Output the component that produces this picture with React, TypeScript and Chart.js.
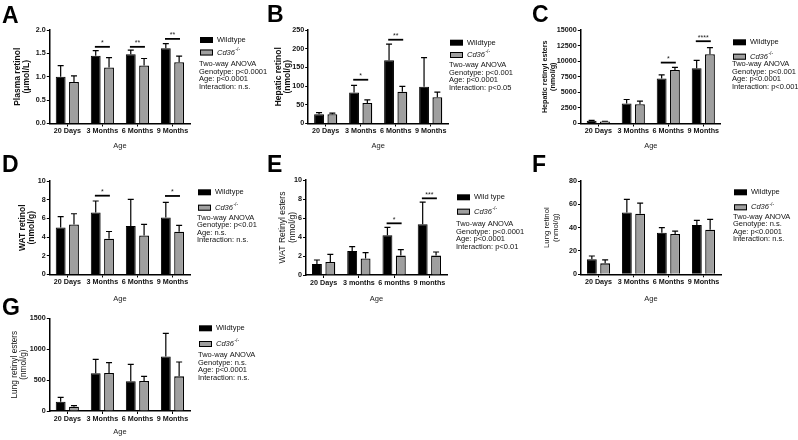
import React, { useEffect, useRef } from "react";
import { Chart, registerables } from "chart.js";
Chart.register(...registerables);

const FONT = "'Liberation Sans', Arial, Helvetica, sans-serif";

// ---------- data ----------
const CATS = ["20 Days", "3 Months", "6 Months", "9 Months"];
const CATS_E = ["20 Days", "3 months", "6 months", "9 months"];

const A_WT = [1.0, 1.45, 1.48, 1.61];
const A_WT_ERR = [0.24, 0.11, 0.09, 0.1];
const A_KO = [0.89, 1.2, 1.24, 1.31];
const A_KO_ERR = [0.13, 0.21, 0.15, 0.13];
const A_SIG_Y = [null, 1.64, 1.64, 1.81];
const A_SIG_TXT = ["", "*", "**", "**"];
const A_STATS = ["Two-way ANOVA", "Genotype: p<0.0001", "Age: p<0.0001", "Interaction: n.s."];

const B_WT = [25, 83, 169, 98];
const B_WT_ERR = [4, 19, 43, 78];
const B_KO = [25, 55, 85, 70];
const B_KO_ERR = [3, 8, 14, 14];
const B_SIG_Y = [null, 117, 224, null];
const B_SIG_TXT = ["", "*", "**", ""];
const B_STATS = ["Two-way ANOVA", "Genotype: p<0.001", "Age: p<0.0001", "Interaction: p<0.05"];

const C_WT = [430, 3200, 7200, 8860];
const C_WT_ERR = [60, 650, 600, 1280];
const C_KO = [320, 3100, 8600, 11100];
const C_KO_ERR = [40, 480, 420, 1070];
const C_SIG_Y = [null, null, 9770, 13200];
const C_SIG_TXT = ["", "", "*", "****"];
const C_STATS = ["Two-way ANOVA", "Genotype: p<0.001", "Age: p<0.0001", "Interaction: p<0.001"];

const D_WT = [5.04, 6.64, 5.18, 6.1];
const D_WT_ERR = [1.14, 1.22, 2.86, 1.61];
const D_KO = [5.36, 3.82, 4.18, 4.57];
const D_KO_ERR = [1.14, 0.78, 1.18, 0.68];
const D_SIG_Y = [null, 8.43, null, 8.4];
const D_SIG_TXT = ["", "*", "", "*"];
const D_STATS = ["Two-way ANOVA", "Genotype: p<0.01", "Age: n.s.", "Interaction: n.s."];

const E_WT = [1.16, 2.53, 4.18, 5.33];
const E_WT_ERR = [0.42, 0.45, 0.84, 2.35];
const E_KO = [1.37, 1.75, 2.04, 2.04];
const E_KO_ERR = [0.81, 0.6, 0.63, 0.38];
const E_SIG_Y = [null, null, 5.44, 8.07];
const E_SIG_TXT = ["", "", "*", "***"];
const E_STATS = ["Two-way ANOVA", "Genotype: p<0.0001", "Age: p<0.0001", "Interaction: p<0.01"];

const F_WT = [12.9, 52.9, 35.7, 42.3];
const F_WT_ERR = [2.8, 11.4, 4.3, 4.0];
const F_KO = [9.4, 52, 34.6, 38.3];
const F_KO_ERR = [2.9, 9.1, 2.5, 8.8];
const F_SIG_Y = [null, null, null, null];
const F_SIG_TXT = ["", "", "", ""];
const F_STATS = ["Two-way ANOVA", "Genotype: n.s.", "Age: p<0.0001", "Interaction: n.s."];

const G_WT = [151, 610, 480, 880];
const G_WT_ERR = [70, 226, 275, 377];
const G_KO = [70, 615, 486, 561];
const G_KO_ERR = [16, 168, 75, 232];
const G_SIG_Y = [null, null, null, null];
const G_SIG_TXT = ["", "", "", ""];
const G_STATS = ["Two-way ANOVA", "Genotype: n.s.", "Age: p<0.0001", "Interaction: n.s."];

// ---------- panels (layout) ----------
const PANELS: any[] = [
  {
    letter: "A", cats: CATS, wt: A_WT, wtErr: A_WT_ERR, ko: A_KO, koErr: A_KO_ERR, sigY: A_SIG_Y, sigTxt: A_SIG_TXT, stats: A_STATS,
    wtName: "Wildtype", yTitle: ["Plasma retinol", "(\u03bcmol/L)"], yBold: true, ySize: 8.5, yFirstX: 17.5,
    max: 2, step: 0.5, dec: 1,
    box: { x0: 0, y0: 0, w: 270, h: 150 }, plot: { L: 49.8, T: 30, R: 190, B: 123.5 },
    letterPos: [2, 23], leg: { x: 200, wt: 40, ko: 52.5, st: 64 },
  },
  {
    letter: "B", cats: CATS, wt: B_WT, wtErr: B_WT_ERR, ko: B_KO, koErr: B_KO_ERR, sigY: B_SIG_Y, sigTxt: B_SIG_TXT, stats: B_STATS,
    wtName: "Wildtype", yTitle: ["Hepatic retinol", "(nmol/g)"], yBold: true, ySize: 8.5, yFirstX: 278.5,
    max: 250, step: 50, dec: 0,
    box: { x0: 265, y0: 0, w: 270, h: 150 }, plot: { L: 308.2, T: 30, R: 448.2, B: 123.5 },
    letterPos: [267, 22], leg: { x: 450, wt: 42.7, ko: 55, st: 65 },
  },
  {
    letter: "C", cats: CATS, wt: C_WT, wtErr: C_WT_ERR, ko: C_KO, koErr: C_KO_ERR, sigY: C_SIG_Y, sigTxt: C_SIG_TXT, stats: C_STATS,
    wtName: "Wildtype", yTitle: ["Hepatic retinyl esters", "(nmol/g)"], yBold: true, ySize: 7.2, yFirstX: 545,
    max: 15000, step: 2500, dec: 0,
    box: { x0: 530, y0: 0, w: 268, h: 150 }, plot: { L: 580.8, T: 30, R: 720.8, B: 123.5 },
    letterPos: [532, 22], leg: { x: 733, wt: 42.3, ko: 56.7, st: 64.3 },
  },
  {
    letter: "D", cats: CATS, wt: D_WT, wtErr: D_WT_ERR, ko: D_KO, koErr: D_KO_ERR, sigY: D_SIG_Y, sigTxt: D_SIG_TXT, stats: D_STATS,
    wtName: "Wildtype", yTitle: ["WAT retinol", "(nmol/g)"], yBold: true, ySize: 8.5, yFirstX: 22.5,
    max: 10, step: 2, dec: 0,
    box: { x0: 0, y0: 148, w: 270, h: 155 }, plot: { L: 49.8, T: 181, R: 190, B: 274.5 },
    letterPos: [2, 172], leg: { x: 198, wt: 192.3, ko: 207.7, st: 217.7 },
  },
  {
    letter: "E", cats: CATS_E, wt: E_WT, wtErr: E_WT_ERR, ko: E_KO, koErr: E_KO_ERR, sigY: E_SIG_Y, sigTxt: E_SIG_TXT, stats: E_STATS,
    wtName: "Wild type", yTitle: ["WAT Retinyl esters", "(nmol/g)"], yBold: false, ySize: 8.5, yFirstX: 283,
    max: 10, step: 2, dec: 0,
    box: { x0: 265, y0: 148, w: 270, h: 155 }, plot: { L: 306, T: 180, R: 447, B: 275 },
    letterPos: [267, 172], leg: { x: 457, wt: 197.3, ko: 211.7, st: 224.3 },
  },
  {
    letter: "F", cats: CATS, wt: F_WT, wtErr: F_WT_ERR, ko: F_KO, koErr: F_KO_ERR, sigY: F_SIG_Y, sigTxt: F_SIG_TXT, stats: F_STATS,
    wtName: "Wildtype", yTitle: ["Lung retinol", "(nmol/g)"], yBold: false, ySize: 7.8, yFirstX: 547,
    max: 80, step: 20, dec: 0,
    box: { x0: 530, y0: 148, w: 268, h: 155 }, plot: { L: 581, T: 181, R: 721, B: 274.3 },
    letterPos: [532, 172], leg: { x: 734, wt: 192.3, ko: 207.3, st: 216.7 },
  },
  {
    letter: "G", cats: CATS, wt: G_WT, wtErr: G_WT_ERR, ko: G_KO, koErr: G_KO_ERR, sigY: G_SIG_Y, sigTxt: G_SIG_TXT, stats: G_STATS,
    wtName: "Wildtype", yTitle: ["Lung retinyl esters", "(nmol/g)"], yBold: false, ySize: 8.3, yFirstX: 14.5,
    max: 1500, step: 500, dec: 0,
    box: { x0: 0, y0: 293, w: 270, h: 143 }, plot: { L: 49.8, T: 318.3, R: 190, B: 411 },
    letterPos: [2, 315], leg: { x: 199, wt: 328.3, ko: 344, st: 355 },
  },
];

const GRAY = "#9f9f9f";

function decor(p: any) {
  return {
    id: "decor" + p.letter,
    afterDatasetsDraw(chart: any) {
      const ctx = chart.ctx;
      const xs = chart.scales.x;
      const ys = chart.scales.y;
      const ox = p.box.x0;
      const oy = p.box.y0;
      ctx.save();
      // error bars (upper only)
      [0, 1].forEach((di) => {
        const meta = chart.getDatasetMeta(di);
        const vals = di === 0 ? p.wt : p.ko;
        const errs = di === 0 ? p.wtErr : p.koErr;
        meta.data.forEach((bar: any, i: number) => {
          const cx = bar.x;
          const y0 = ys.getPixelForValue(vals[i]);
          const y1 = ys.getPixelForValue(vals[i] + errs[i]);
          ctx.strokeStyle = "#000";
          ctx.lineWidth = 1.2;
          ctx.beginPath();
          ctx.moveTo(cx, y0);
          ctx.lineTo(cx, y1);
          ctx.moveTo(cx - 3, y1);
          ctx.lineTo(cx + 3, y1);
          ctx.stroke();
        });
      });
      // significance
      p.sigY.forEach((v: any, i: number) => {
        if (v == null) return;
        const cx = xs.getPixelForValue(i);
        const yy = ys.getPixelForValue(v);
        ctx.strokeStyle = "#000";
        ctx.lineWidth = 1.8;
        ctx.beginPath();
        ctx.moveTo(cx - 7.5, yy);
        ctx.lineTo(cx + 7.5, yy);
        ctx.stroke();
        ctx.fillStyle = "#222";
        ctx.font = `7px ${FONT}`;
        ctx.textAlign = "center";
        ctx.textBaseline = "alphabetic";
        ctx.fillText(p.sigTxt[i], cx, yy - 1.5);
      });
      // panel letter
      ctx.fillStyle = "#000";
      ctx.font = `bold 23px ${FONT}`;
      ctx.textAlign = "left";
      ctx.textBaseline = "alphabetic";
      ctx.fillText(p.letter, p.letterPos[0] - ox, p.letterPos[1] - oy);
      // legend
      const lx = p.leg.x - ox;
      ctx.fillStyle = "#000";
      ctx.fillRect(lx, p.leg.wt - oy - 3, 13, 6);
      ctx.fillStyle = GRAY;
      ctx.fillRect(lx, p.leg.ko - oy - 3, 13, 6);
      ctx.strokeStyle = "#000";
      ctx.lineWidth = 1;
      ctx.strokeRect(lx + 0.5, p.leg.ko - oy - 2.5, 12, 5);
      ctx.fillStyle = "#111";
      ctx.textBaseline = "middle";
      ctx.font = `7.5px ${FONT}`;
      ctx.fillText(p.wtName, lx + 17, p.leg.wt - oy);
      ctx.font = `italic 7.5px ${FONT}`;
      ctx.fillText("Cd36", lx + 17, p.leg.ko - oy);
      const w = ctx.measureText("Cd36").width;
      ctx.font = `5px ${FONT}`;
      ctx.fillText("-/-", lx + 17 + w + 0.5, p.leg.ko - oy - 3);
      ctx.font = `7.5px ${FONT}`;
      p.stats.forEach((s: string, i: number) => {
        ctx.fillText(s, lx - 1, p.leg.st - oy + i * 7.5);
      });
      ctx.restore();
    },
  };
}

function Panel({ p }: { p: any }) {
  const ref = useRef<HTMLCanvasElement>(null);
  useEffect(() => {
    if (!ref.current) return;
    const lh = p.ySize * 1.12;
    const chart = new Chart(ref.current, {
      type: "bar",
      data: {
        labels: p.cats,
        datasets: [
          { label: p.wtName, data: p.wt, backgroundColor: "#000", borderColor: "#000", borderWidth: 1, categoryPercentage: 0.76, barPercentage: 0.74 },
          { label: "Cd36-/-", data: p.ko, backgroundColor: GRAY, borderColor: "#000", borderWidth: 1.3, categoryPercentage: 0.76, barPercentage: 0.74 },
        ],
      },
      options: {
        animation: false,
        responsive: false,
        maintainAspectRatio: false,
        layout: {
          padding: { left: 0, top: p.plot.T - p.box.y0, right: p.box.x0 + p.box.w - p.plot.R, bottom: 0 },
        },
        plugins: { legend: { display: false }, tooltip: { enabled: false } },
        scales: {
          x: {
            offset: true,
            grid: { display: true, drawOnChartArea: false, drawTicks: true, tickLength: 3, offset: false, color: "#000", lineWidth: 1 },
            border: { display: true, color: "#000", width: 1.5 },
            ticks: { autoSkip: false, maxRotation: 0, minRotation: 0, padding: 0.5, color: "#111", font: { family: FONT, size: 7.2, weight: "bold" } },
            title: { display: true, text: "Age", padding: { top: 0, bottom: 0 }, color: "#222", font: { family: FONT, size: 7.5 } },
            afterFit: (s: any) => { s.height = p.box.y0 + p.box.h - p.plot.B; },
          },
          y: {
            min: 0,
            max: p.max,
            grid: { display: true, drawOnChartArea: false, drawTicks: true, tickLength: 3, color: "#000", lineWidth: 1 },
            border: { display: true, color: "#000", width: 1.5 },
            ticks: {
              stepSize: p.step, padding: 1, color: "#111",
              font: { family: FONT, size: 7.2, weight: "bold" },
              callback: (v: any) => Number(v).toFixed(p.dec),
            },
            title: {
              display: true, text: p.yTitle, color: "#111",
              padding: { top: p.yFirstX - p.box.x0 - lh / 2, bottom: 0 },
              font: { family: FONT, size: p.ySize, weight: p.yBold ? "bold" : "normal", lineHeight: 1.12 },
            },
            afterFit: (s: any) => { s.width = p.plot.L - p.box.x0; },
          },
        },
      },
      plugins: [decor(p)],
    } as any);
    return () => chart.destroy();
  }, [p]);
  return (
    <canvas
      ref={ref}
      width={p.box.w}
      height={p.box.h}
      style={{ position: "absolute", left: p.box.x0, top: p.box.y0, width: p.box.w, height: p.box.h }}
    />
  );
}

export default function App() {
  return (
    <div style={{ position: "absolute", left: 0, top: 0, width: 798, height: 440, background: "#fff", overflow: "hidden" }}>
      {PANELS.map((p) => (
        <Panel key={p.letter} p={p} />
      ))}
    </div>
  );
}
